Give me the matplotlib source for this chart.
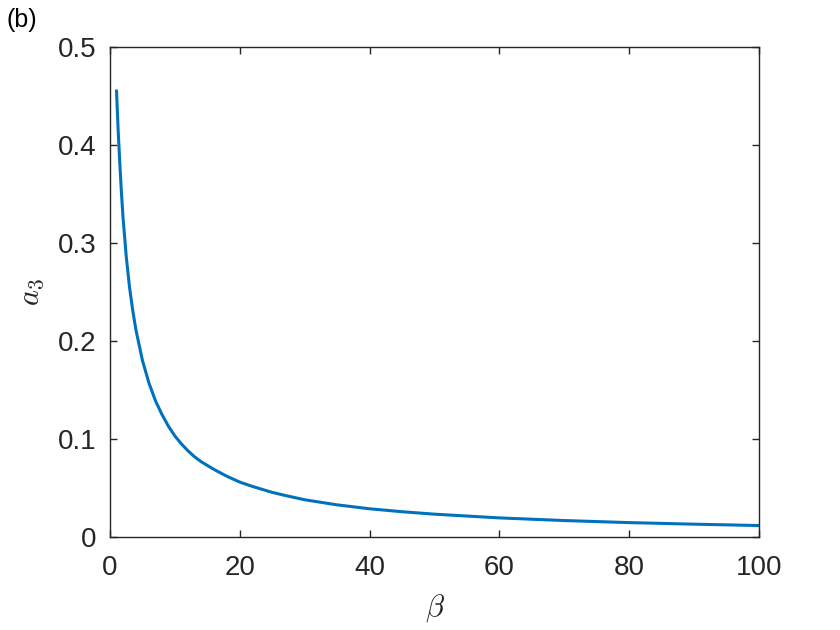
import numpy as np
import matplotlib.pyplot as plt

# values
beta = [1, 1.25, 1.5, 1.75, 2, 2.5, 3, 3.5, 4, 5, 6, 7, 8, 9, 10, 11, 12, 13,
        14, 16, 18, 20, 22, 25, 27, 30, 35, 40, 45, 50, 60, 70, 80, 90, 100]
a3 = [0.455, 0.415, 0.382, 0.352, 0.326, 0.286, 0.255, 0.231, 0.211, 0.180,
      0.157, 0.139, 0.125, 0.113, 0.103, 0.095, 0.088, 0.082,
      0.077, 0.069, 0.062, 0.056, 0.0515, 0.0455, 0.0424, 0.038, 0.0328,
      0.0288, 0.0258, 0.0233, 0.0195, 0.0168, 0.0147, 0.0131, 0.0117]

xticks = [0, 20, 40, 60, 80, 100]
yticks = [0, 0.1, 0.2, 0.3, 0.4, 0.5]
ytick_labels = ['0', '0.1', '0.2', '0.3', '0.4', '0.5']

plt.rcParams['font.family'] = ['Liberation Sans', 'DejaVu Sans']
plt.rcParams['mathtext.fontset'] = 'cm'

dark = '#262626'
fig = plt.figure(figsize=(8.4, 6.3), dpi=100)
ax = fig.add_axes([0.131, 0.1476, 0.7726, 0.7778])

ax.plot(beta, a3, color='#0072BD', lw=2.2, solid_joinstyle='round')

ax.set_xlim(0, 100)
ax.set_ylim(0, 0.5)
ax.set_xticks(xticks)
ax.set_yticks(yticks)
ax.set_yticklabels(ytick_labels)
ax.tick_params(direction='in', length=5, width=1, colors=dark, labelsize=20,
               top=True, right=True)
ax.tick_params(axis='x', pad=13)
ax.tick_params(axis='y', pad=10)
for s in ax.spines.values():
    s.set_color(dark)
    s.set_linewidth(1)

ax.set_xlabel(r'$\beta$', fontsize=22, color=dark, labelpad=8)
ax.set_ylabel(r'$a_3$', fontsize=22, color=dark, labelpad=8)

fig.text(0.008, 0.988, '(b)', fontsize=18, color='black', va='top', ha='left')

fig.savefig('out.png', dpi=100)
